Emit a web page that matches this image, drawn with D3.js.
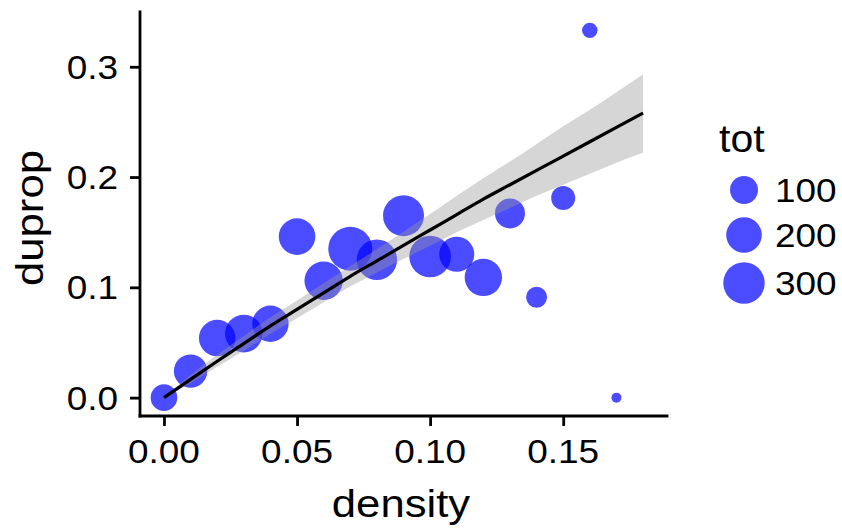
<!DOCTYPE html>
<html>
<head>
<meta charset="utf-8">
<script src="https://cdn.jsdelivr.net/npm/d3@7"></script>
<style>
  html, body { margin: 0; padding: 0; background: #ffffff; }
  svg { display: block; }
  text { font-family: "Liberation Sans", Arial, Helvetica, sans-serif; fill: #000; }
</style>
</head>
<body>
<svg id="chart" width="842" height="529"></svg>
<script>
// Observations: proportion of duplicates against density, sized by total count
const density = [0.00, 0.01, 0.02, 0.03, 0.04, 0.05, 0.06, 0.07, 0.08, 0.09,
                 0.10, 0.11, 0.12, 0.13, 0.14, 0.15, 0.16, 0.17];
const duprop  = [0.000, 0.024, 0.054, 0.058, 0.067, 0.146, 0.106, 0.135, 0.125, 0.165,
                 0.128, 0.130, 0.109, 0.167, 0.091, 0.181, 0.333, 0.000];
const tot     = [86, 167, 215, 232, 212, 215, 245, 350, 280, 291,
                 303, 191, 228, 123, 39, 62, 12, 3];

// Fitted smooth with its confidence band
const fitX     = [0.00, 0.01, 0.02, 0.03, 0.04, 0.05, 0.06, 0.07, 0.08, 0.09,
                  0.10, 0.11, 0.12, 0.13, 0.14, 0.15, 0.16, 0.17, 0.18];
const fitY     = [0.000, 0.0165, 0.033, 0.049, 0.065, 0.080, 0.095, 0.110, 0.124, 0.138,
                  0.152, 0.166, 0.180, 0.193, 0.206, 0.219, 0.232, 0.245, 0.258];
const fitLower = [0.000, 0.0132, 0.028, 0.0426, 0.058, 0.072, 0.0865, 0.1007, 0.1135, 0.1256,
                  0.1376, 0.150, 0.161, 0.172, 0.183, 0.193, 0.203, 0.213, 0.222];
const fitUpper = [0.000, 0.0206, 0.0389, 0.0559, 0.0728, 0.088, 0.1036, 0.1194, 0.1345, 0.1504,
                  0.1664, 0.183, 0.199, 0.214, 0.230, 0.246, 0.261, 0.277, 0.293];

const xTicks = [0.00, 0.05, 0.10, 0.15];
const yTicks = [0.0, 0.1, 0.2, 0.3];
const legendValues = [100, 200, 300];
const xTitle = "density", yTitle = "duprop", sizeTitle = "tot";

const svg = d3.select("#chart");
const panel = { left: 140, right: 667, top: 12, bottom: 416 };

// ggplot-style 5% expansion around the data extent
function expand(ext) { const d = (ext[1] - ext[0]) * 0.05; return [ext[0] - d, ext[1] + d]; }
const x = d3.scaleLinear()
  .domain(expand(d3.extent(density.concat(fitX))))
  .range([panel.left, panel.right]);
const y = d3.scaleLinear()
  .domain(expand(d3.extent(duprop.concat(fitLower, fitUpper))))
  .range([panel.bottom, panel.top]);

// Point radius grows with the square root of the rescaled total
const totNorm = d3.scaleLinear().domain(d3.extent(tot)).range([0, 1]);
const rScale = d3.scaleSqrt().domain([0, 1]).range([5, 22]);
const r = v => rScale(totNorm(v));

const stretch = 1.12;
function label(g, str, size, anchor, sx) {
  return g.append("text")
    .attr("transform", `scale(${sx || stretch},1)`)
    .attr("text-anchor", anchor)
    .style("font-size", size + "px")
    .text(str);
}

// points
const pts = density.map((d, i) => ({ x: d, y: duprop[i], t: tot[i] }));
svg.append("g").selectAll("circle").data(pts).join("circle")
  .attr("cx", d => x(d.x))
  .attr("cy", d => y(d.y))
  .attr("r", d => r(d.t))
  .attr("fill", "blue")
  .attr("fill-opacity", 0.7);

// confidence band and fitted line
const fit = fitX.map((d, i) => ({ x: d, y: fitY[i], lo: fitLower[i], hi: fitUpper[i] }));
svg.append("path").datum(fit)
  .attr("d", d3.area().x(d => x(d.x)).y0(d => y(d.lo)).y1(d => y(d.hi)).curve(d3.curveMonotoneX))
  .attr("fill", "#999999").attr("fill-opacity", 0.4);
svg.append("path").datum(fit)
  .attr("d", d3.line().x(d => x(d.x)).y(d => y(d.y)).curve(d3.curveMonotoneX))
  .attr("fill", "none").attr("stroke", "#000").attr("stroke-width", 3.2)
  .attr("stroke-linecap", "butt");

// axes
const axisW = 2.8;
const xAxis = svg.append("g").attr("transform", `translate(0,${panel.bottom})`)
  .call(d3.axisBottom(x).tickValues(xTicks).tickSize(10).tickSizeOuter(0).tickFormat(d3.format(".2f")));
const yAxis = svg.append("g").attr("transform", `translate(${panel.left},0)`)
  .call(d3.axisLeft(y).tickValues(yTicks).tickSize(10).tickSizeOuter(0).tickFormat(d3.format(".1f")));
[xAxis, yAxis].forEach(a => {
  a.select(".domain").attr("stroke", "#000").attr("stroke-width", axisW).attr("stroke-linecap", "square");
  a.selectAll(".tick line").attr("stroke", "#000").attr("stroke-width", axisW);
  a.selectAll(".tick text").remove();
});
xAxis.select(".domain").attr("d", `M${panel.left},0H${panel.right}`);
yAxis.select(".domain").attr("d", `M0,${panel.top}V${panel.bottom}`);

const tickFs = 33;
xTicks.forEach(t => {
  const g = svg.append("g").attr("transform", `translate(${x(t)},463)`);
  label(g, d3.format(".2f")(t), tickFs, "middle");
});
yTicks.forEach(t => {
  const g = svg.append("g").attr("transform", `translate(118,${y(t) + 12})`);
  label(g, d3.format(".1f")(t), tickFs, "end");
});

// axis titles
label(svg.append("g").attr("transform", "translate(401,517)"), xTitle, 39, "middle");
label(svg.append("g").attr("transform", "translate(43,218) rotate(-90)"), yTitle, 39, "middle");

// size legend
label(svg.append("g").attr("transform", "translate(719,152)"), sizeTitle, 38, "start", 1.08);
const legendY = [190, 235, 283];
legendValues.forEach((v, i) => {
  svg.append("circle").attr("cx", 744).attr("cy", legendY[i]).attr("r", r(v))
    .attr("fill", "blue").attr("fill-opacity", 0.7);
  label(svg.append("g").attr("transform", `translate(775,${legendY[i] + 12})`), String(v), tickFs, "start");
});
</script>
</body>
</html>
